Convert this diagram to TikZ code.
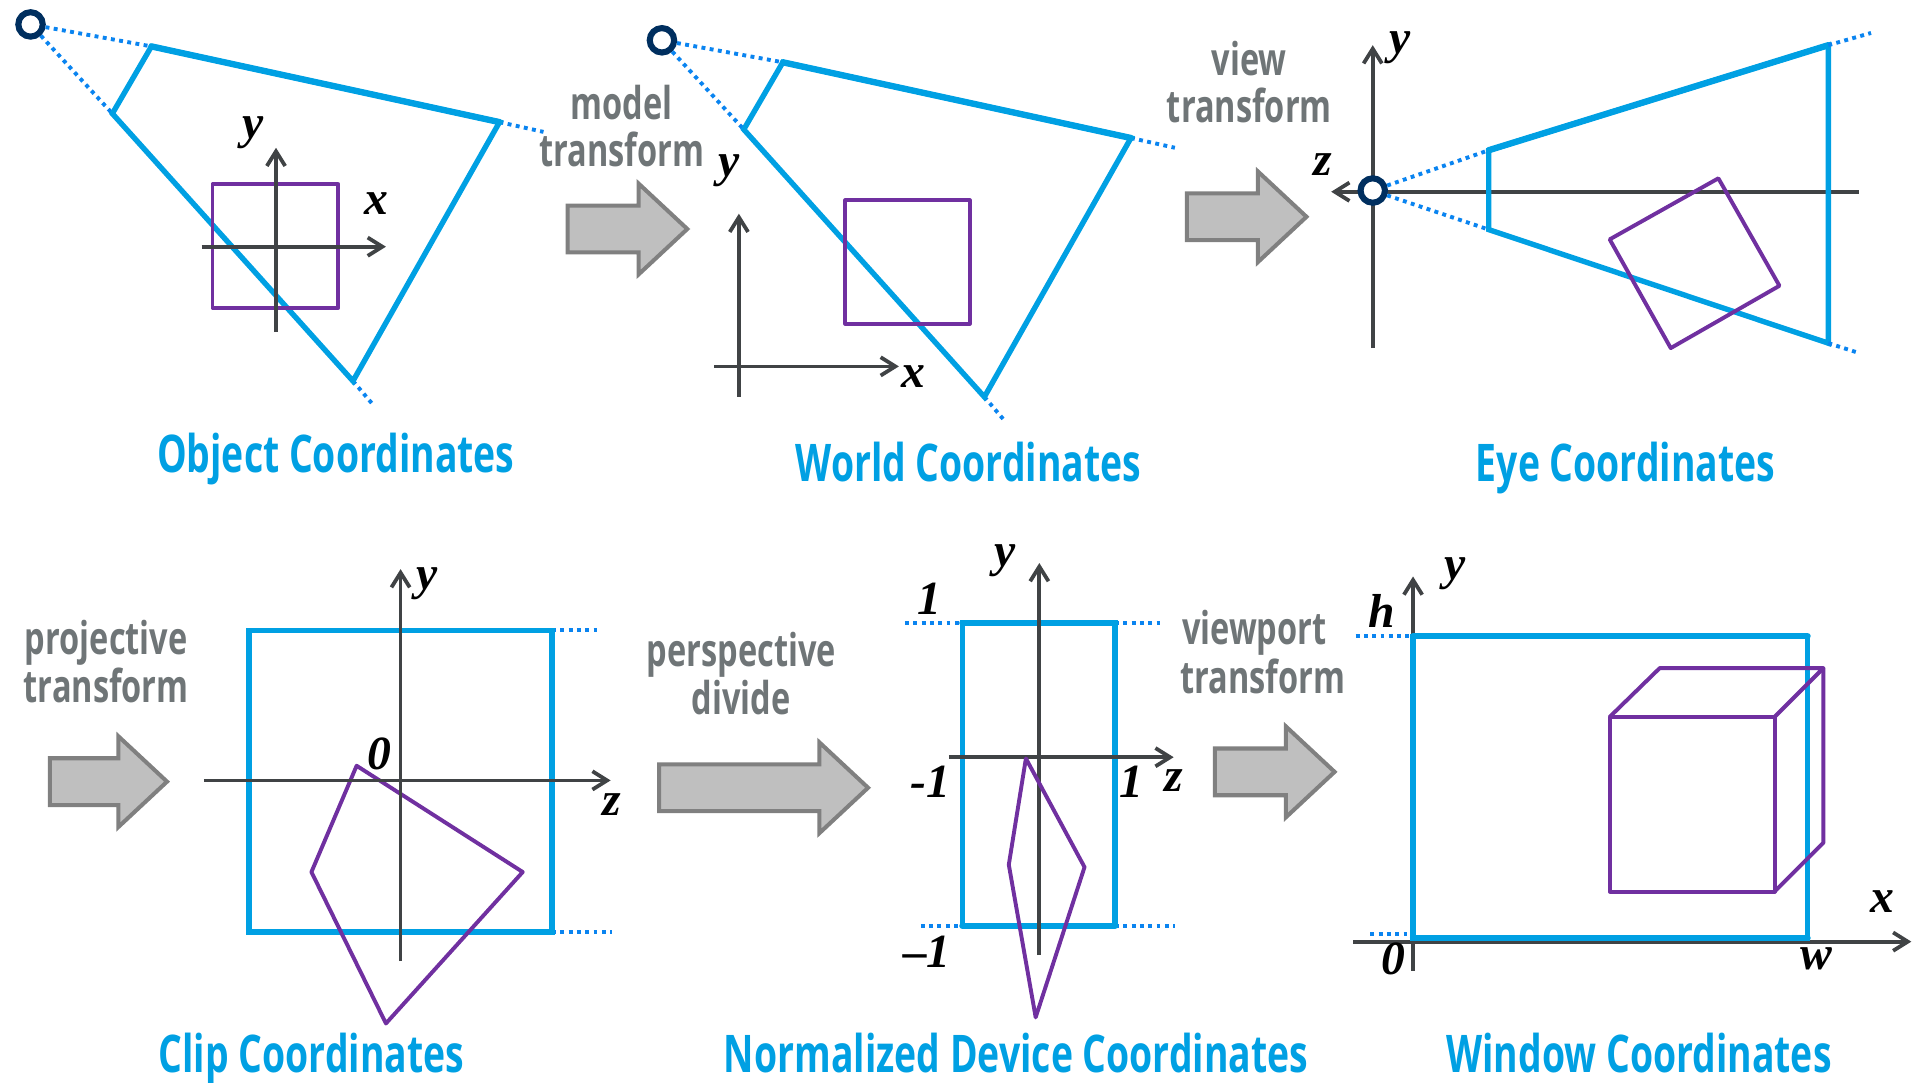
\documentclass[tikz,border=0pt]{standalone}
\usepackage{fontspec}
\setmainfont{Open Sans}
\newfontfamily\capfont[FakeStretch=0.72]{Open Sans}
\newfontfamily\mathfont{Liberation Serif}
\usetikzlibrary{shapes.arrows,arrows.meta}
\definecolor{frustum}{HTML}{00A0E3}
\definecolor{dotline}{HTML}{0A84F0}
\definecolor{shape}{HTML}{7030A0}
\definecolor{axisc}{HTML}{404345}
\definecolor{eyec}{HTML}{002F5F}
\definecolor{stage}{HTML}{6F7577}
\tikzset{
  edge/.style={draw=frustum,line width=4.4pt,line join=miter},
  edgetop/.style={draw=frustum,line width=5.2pt,line cap=round},
  dots/.style={draw=dotline,line width=3.2pt,dash pattern=on 3.2pt off 3.6pt},
  solid3d/.style={draw=shape,line width=3.2pt,line join=round},
  axis/.style={draw=axisc,line width=3.1pt,-{Straight Barb[length=12pt,width=15pt,line width=3.1pt]}},
  eye/.style={circle,draw=eyec,fill=white,line width=5pt,minimum size=20pt,inner sep=0pt},
  pipe/.style={single arrow,draw=black!50,fill=black!25,line width=3.3pt,inner xsep=0pt,inner ysep=17.5pt,
    single arrow tip angle=86,single arrow head extend=18pt},
  title/.style={text=frustum,font=\capfont\bfseries\fontsize{42.5}{42.5}\selectfont,inner sep=0pt,anchor=base},
  stagel/.style={text=stage,font=\capfont\bfseries\fontsize{37}{37}\selectfont,inner sep=0pt},
  var/.style={font=\mathfont\bfseries\itshape\fontsize{39}{39}\selectfont,inner sep=0pt}
}

\begin{document}
\begin{tikzpicture}[x=1pt,y=-1pt]
  \useasboundingbox (0,0) rectangle (1568,886);
  % object
  \node[eye] (eyeA) at (25,20) {};
  \coordinate (a1) at (124,38);
  \coordinate (a2) at (409,100);
  \coordinate (a3) at (289,312);
  \coordinate (a4) at (92,93);
  \coordinate (a5) at (445,108);
  \coordinate (a6) at (306,332);
  \draw[dots] (eyeA) -- (a1);
  \draw[dots] (eyeA) -- (a4);
  \draw[dots] (a2) -- (a5);
  \draw[dots] (a3) -- (a6);
  \draw[edge] (a1) -- (a2) -- (a3) -- (a4) -- cycle;
  \draw[edgetop] (a1) -- (a2);
  \draw[solid3d] (174,151) rectangle (277,252);
  \draw[axis] (165,202) -- (316,202);
  \draw[axis] (226,272) -- (226,121);
  \node[var] (ay) at (207,109) {y};
  \node[var] (ax) at (308,167) {x};
  \node[title] (objt) at (275,387) {Object Coordinates};
  % world
  \node[stagel] (model) at (509,84) {model};
  \node[stagel] (modelb) at (509,122) {transform};
  \node[pipe,minimum height=98pt] (pipeA) at (503.5,187.5) {};
  \node[eye] (eyeB) at (542,33) {};
  \coordinate (b1) at (641,51);
  \coordinate (b2) at (926,113);
  \coordinate (b3) at (806,325);
  \coordinate (b4) at (609,106);
  \coordinate (b5) at (962,121);
  \coordinate (b6) at (823,345);
  \draw[dots] (eyeB) -- (b1);
  \draw[dots] (eyeB) -- (b4);
  \draw[dots] (b2) -- (b5);
  \draw[dots] (b3) -- (b6);
  \draw[edge] (b1) -- (b2) -- (b3) -- (b4) -- cycle;
  \draw[edgetop] (b1) -- (b2);
  \draw[solid3d] (692,164) rectangle (794,265);
  \draw[axis] (585,300) -- (736,300);
  \draw[axis] (605,325) -- (605,175);
  \node[var] (by) at (597,140) {y};
  \node[var] (bx) at (748,308) {x};
  \node[title] (wort) at (793,394) {World Coordinates};
  % eye
  \node[stagel] (view) at (1023,48) {view};
  \node[stagel] (viewb) at (1023,86) {transform};
  \node[pipe,minimum height=98pt] (pipeB) at (1010.5,177.5) {};
  \coordinate (c1) at (1219,123);
  \coordinate (c2) at (1497,37);
  \coordinate (c3) at (1497,281);
  \coordinate (c4) at (1219,188);
  \coordinate (c5) at (1532,27);
  \coordinate (c6) at (1522,289);
  \draw[axis] (1124,285) -- (1124,37);
  \draw[axis] (1522,157) -- (1090,157);
  \draw[edge] (c1) -- (c2) -- (c3) -- (c4) -- cycle;
  \draw[edgetop] (c1) -- (c2);
  \draw[solid3d] (1407,146) -- (1457,234) -- (1368,285) -- (1318,196) -- cycle;
  \node[eye] (eyeC) at (1124,156) {};
  \draw[dots] (eyeC) -- (c1);
  \draw[dots] (eyeC) -- (c4);
  \draw[dots] (c2) -- (c5);
  \draw[dots] (c3) -- (c6);
  \node[var] (cy) at (1146,39) {y};
  \node[var] (cz) at (1083,135) {z};
  \node[title] (eyet) at (1331,394) {Eye Coordinates};
  % clip
  \node[stagel] (proj) at (87,526) {projective};
  \node[stagel] (projb) at (87,561) {transform};
  \node[pipe,minimum height=96pt] (pipeC) at (78.5,640) {};
  \coordinate (d1) at (204,516);
  \coordinate (d2) at (452,516);
  \coordinate (d3) at (452,763);
  \coordinate (d5) at (489,516);
  \coordinate (d6) at (501,763);
  \draw[dots] (d2) -- (d5);
  \draw[dots] (d3) -- (d6);
  \draw[edge] (d1) rectangle (d3);
  \draw[solid3d] (292,627) -- (428,714) -- (316,838) -- (255,714) -- cycle;
  \draw[axis] (328,787) -- (328,466);
  \draw[axis] (167,639) -- (500,639);
  \node[var] (dy) at (350,478) {y};
  \node[var] (d0) at (311,617) {0};
  \node[var] (dz) at (501,659) {z};
  \node[title] (clipt) at (255,878) {Clip Coordinates};
  % ndc
  \node[stagel] (persp) at (607,536) {perspective};
  \node[stagel] (perspb) at (607,571) {divide};
  \node[pipe,minimum height=171pt] (pipeD) at (615,645) {};
  \coordinate (e1) at (788,510);
  \coordinate (e2) at (913,510);
  \coordinate (e3) at (913,758);
  \coordinate (e4) at (788,758);
  \coordinate (e5) at (741,510);
  \coordinate (e6) at (950,510);
  \coordinate (e7) at (754,758);
  \coordinate (e8) at (962,758);
  \draw[dots] (e5) -- (e1);
  \draw[dots] (e2) -- (e6);
  \draw[dots] (e7) -- (e4);
  \draw[dots] (e3) -- (e8);
  \draw[edge] (e1) rectangle (e3);
  \draw[edgetop] (e1) -- (e2);
  \draw[edgetop] (e4) -- (e3);
  \draw[axis] (851,782) -- (851,461);
  \draw[axis] (777,620) -- (961,620);
  \draw[solid3d] (840,621) -- (888,710) -- (848,833) -- (826,708) -- cycle;
  \node[var] (ey) at (823,459) {y};
  \node[var] (etop) at (761,490) {1};
  \node[var] (eleft) at (762,640) {-1};
  \node[var] (eright) at (926,640) {1};
  \node[var] (ez) at (961,639) {z};
  \node[var] (ebot) at (759,779) {–1};
  \node[title] (ndct) at (832,878) {Normalized Device Coordinates};
  % window
  \node[stagel] (vport) at (1027,518) {viewport};
  \node[stagel] (vportb) at (1034,554) {transform};
  \node[pipe,minimum height=98pt] (pipeE) at (1033.5,632) {};
  \coordinate (f1) at (1157,521);
  \coordinate (f2) at (1480,768);
  \coordinate (f3) at (1157,765);
  \coordinate (f4) at (1157,768);
  \coordinate (f5) at (1110,521);
  \coordinate (f6) at (1122,765);
  \coordinate (f7) at (1480,521);
  \draw[dots] (f5) -- (f1);
  \draw[axis] (1157,795) -- (1157,472);
  \draw[axis] (1108,771) -- (1565,771);
  \draw[dots] (f6) -- (f3);
  \draw[edge] (f1) rectangle (f2);
  \draw[edgetop] (f1) -- (f7);
  \draw[edgetop] (f4) -- (f2);
  \draw[solid3d] (1318,587) rectangle (1453,730);
  \draw[solid3d] (1318,587) -- (1359,547) -- (1493,547) -- (1453,587);
  \draw[solid3d] (1493,547) -- (1493,690) -- (1453,730);
  \node[var] (fy) at (1191,470) {y};
  \node[var] (fh) at (1131,500) {h};
  \node[var] (fx) at (1541,738) {x};
  \node[var] (f0) at (1141,785) {0};
  \node[var] (fw) at (1487,785) {w};
  \node[title] (wint) at (1342,878) {Window Coordinates};
\end{tikzpicture}
\end{document}
